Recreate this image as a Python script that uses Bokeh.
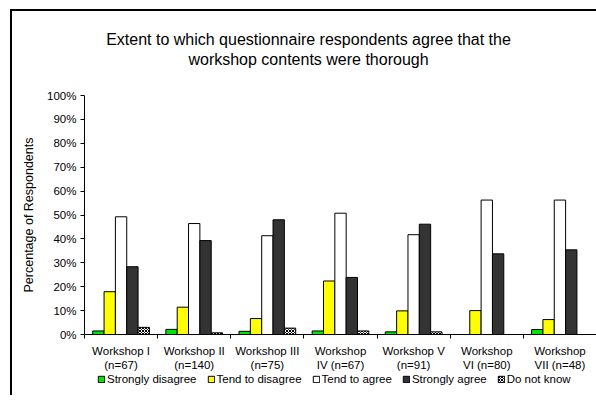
from bokeh.plotting import figure
from bokeh.layouts import column
from bokeh.models import (Range1d, FixedTicker, PrintfTickFormatter, Legend, LegendItem,
                          Label, ColumnDataSource, LinearAxis)
from bokeh.transform import dodge
from bokeh.embed import file_html
from bokeh.resources import INLINE

workshops = ["Workshop I\n(n=67)", "Workshop II\n(n=140)", "Workshop III\n(n=75)",
             "Workshop\nIV (n=67)", "Workshop V\n(n=91)", "Workshop\nVI (n=80)",
             "Workshop\nVII (n=48)"]
strongly_disagree = [1.49, 2.14, 1.33, 1.49, 1.10, 0.0, 2.08]
tend_to_disagree = [17.91, 11.43, 6.67, 22.39, 9.89, 10.0, 6.25]
tend_to_agree = [49.25, 46.43, 41.33, 50.75, 41.76, 56.25, 56.25]
strongly_agree = [28.36, 39.29, 48.00, 23.88, 46.15, 33.75, 35.42]
do_not_know = [2.99, 0.71, 2.67, 1.49, 1.10, 0.0, 0.0]
series_names = ["Strongly disagree", "Tend to disagree", "Tend to agree",
                "Strongly agree", "Do not know"]
y_ticks = [0, 10, 20, 30, 40, 50, 60, 70, 80, 90, 100]
title_lines = ["Extent to which questionnaire respondents agree that the",
               "workshop contents were thorough"]
y_label = "Percentage of Respondents"

FONT = "Liberation Sans"

centers = [i + 0.5 for i in range(len(workshops))]
bounds = [i for i in range(len(workshops) + 1)]

source = ColumnDataSource(dict(x=centers, sd=strongly_disagree, td=tend_to_disagree,
                               ta=tend_to_agree, sa=strongly_agree, dk=do_not_know))

# ---- title strip (frame aligned with the chart frame) ----
TH = 60
pt = figure(frame_width=512, height=TH, output_backend="svg", toolbar_location=None,
            x_range=Range1d(0, 512), y_range=Range1d(0, TH),
            min_border_left=72, min_border_right=0, min_border_top=0, min_border_bottom=0,
            x_axis_type=None, y_axis_type=None)
pt.outline_line_color = None
pt.grid.visible = False
pt.background_fill_color = "white"
pt.border_fill_color = "white"
pt.add_layout(Label(x=224, y=32, text=title_lines[0], text_align="center",
                    text_baseline="alphabetic", text_font=FONT, text_font_size="16px",
                    text_color="black"))
pt.add_layout(Label(x=224, y=12.3, text=title_lines[1], text_align="center",
                    text_baseline="alphabetic", text_font=FONT, text_font_size="16px",
                    text_color="black"))

# ---- main chart ----
p = figure(frame_width=512, frame_height=239, output_backend="svg", toolbar_location=None,
           x_range=Range1d(0, len(workshops)), y_range=Range1d(0, 100),
           min_border_left=72, min_border_right=0, min_border_top=24,
           min_border_bottom=38, x_axis_type=None, y_axis_type=None)
p.outline_line_color = None
p.grid.visible = False
p.background_fill_color = "white"
p.border_fill_color = "white"

xaxis = LinearAxis(ticker=FixedTicker(ticks=centers, minor_ticks=bounds),
                   major_label_overrides={c: w for c, w in zip(centers, workshops)})
xaxis.major_tick_out = 0
xaxis.major_tick_in = 0
xaxis.minor_tick_out = 4
xaxis.minor_tick_in = 0
xaxis.minor_tick_line_color = "black"
xaxis.axis_line_color = "black"
xaxis.major_label_text_font = FONT
xaxis.major_label_text_font_size = "11.5px"
xaxis.major_label_text_color = "black"
xaxis.major_label_standoff = 6
p.add_layout(xaxis, "below")

yaxis = LinearAxis(ticker=FixedTicker(ticks=y_ticks, minor_ticks=[]),
                   formatter=PrintfTickFormatter(format="%d%%"))
yaxis.major_tick_out = 4
yaxis.major_tick_in = 0
yaxis.minor_tick_out = 0
yaxis.minor_tick_in = 0
yaxis.axis_line_color = "black"
yaxis.major_label_text_font = FONT
yaxis.major_label_text_font_size = "11.5px"
yaxis.major_label_text_color = "black"
yaxis.major_label_standoff = 4
yaxis.axis_label = y_label
yaxis.axis_label_standoff = 8
yaxis.axis_label_text_font = FONT
yaxis.axis_label_text_font_size = "12.5px"
yaxis.axis_label_text_font_style = "normal"
yaxis.axis_label_text_color = "black"
p.add_layout(yaxis, "left")

bw = 0.155
cols = ["sd", "td", "ta", "sa", "dk"]
fills = ["#00e600", "#ffff00", "#ffffff", "#333333", "#ffffff"]
offsets = [-2 * bw, -bw, 0, bw, 2 * bw]

def hatch_kw(col):
    if col == "dk":
        return dict(hatch_pattern="diagonal_cross", hatch_scale=3, hatch_color="black",
                    hatch_weight=1)
    return {}

for col, fill, off in zip(cols, fills, offsets):
    p.vbar(x=dodge("x", off), top=col, width=bw, bottom=0, source=source,
           fill_color=fill, line_color="black", line_width=1, **hatch_kw(col))

# ---- legend strip below the chart (frame aligned with the chart frame) ----
LH = 22
pl = figure(frame_width=512, height=LH, output_backend="svg", toolbar_location=None,
            x_range=Range1d(0, 1), y_range=Range1d(0, 1),
            min_border_left=72, min_border_right=0, min_border_top=0, min_border_bottom=0,
            x_axis_type=None, y_axis_type=None)
pl.outline_line_color = None
pl.grid.visible = False
pl.background_fill_color = "white"
pl.border_fill_color = "white"
legend_renderers = []
for col, fill, off in zip(cols, fills, offsets):
    r = pl.vbar(x=dodge("x", off), top=col, width=bw, bottom=0, source=source,
                fill_color=fill, line_color="black", line_width=1, visible=False,
                **hatch_kw(col))
    legend_renderers.append(r)

legend = Legend(items=[LegendItem(label=n, renderers=[r])
                       for n, r in zip(series_names, legend_renderers)],
                orientation="horizontal", location=(13, LH - 12), glyph_width=8,
                glyph_height=8, label_standoff=2, spacing=10, padding=0, margin=0,
                label_height=12, border_line_color=None, background_fill_alpha=0,
                label_text_font=FONT, label_text_font_size="11.5px",
                label_text_color="black")
pl.add_layout(legend, "center")

layout = column(pt, p, pl, spacing=0,
                styles={"margin-left": "10px", "margin-top": "9px",
                        "border-left": "2px solid black", "border-top": "2px solid black"})

open("out.html", "w").write(file_html(layout, INLINE))
